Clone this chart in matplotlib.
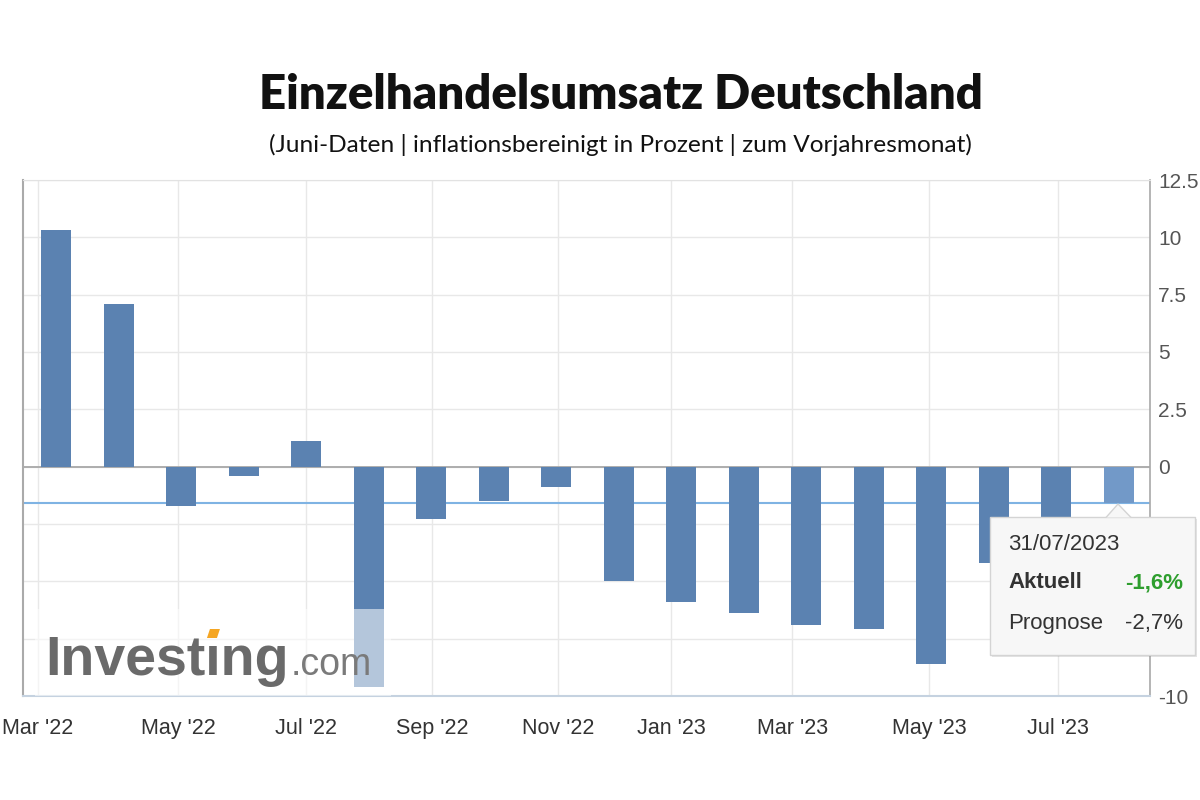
import matplotlib
matplotlib.use("Agg")
import matplotlib.pyplot as plt
import numpy as np
from matplotlib.patches import Rectangle, Polygon

plt.rcParams['font.family'] = ['Liberation Sans', 'DejaVu Sans']

#### data ---------------------------------------

months = ["Mar '22", "Apr '22", "May '22", "Jun '22", "Jul '22", "Aug '22",
          "Sep '22", "Oct '22", "Nov '22", "Dec '22", "Jan '23", "Feb '23",
          "Mar '23", "Apr '23", "May '23", "Jun '23", "Jul '23", "Aug '23"]
values = [10.3, 7.1, -1.7, -0.4, 1.1, -9.6,
          -2.3, -1.5, -0.9, -5.0, -5.9, -6.4,
          -6.9, -7.1, -8.6, -4.2, -3.2, -1.6]

tick_labels = ["Mar '22", "May '22", "Jul '22", "Sep '22", "Nov '22",
               "Jan '23", "Mar '23", "May '23", "Jul '23"]
tick_pos = [-0.29, 1.95, 4.0, 6.02, 8.03, 9.84, 11.78, 13.97, 16.03]

y_ticks = [-10, -7.5, -5, -2.5, 0, 2.5, 5, 7.5, 10, 12.5]
# -2.5 / -5 / -7.5 sit behind the tooltip in the original
y_tick_labels = ["-10", "", "", "", "0", "2.5", "5", "7.5", "10", "12.5"]

tooltip_date = "31/07/2023"
aktuell = -1.6
prognose = -2.7

title = "Einzelhandelsumsatz Deutschland"
subtitle = "(Juni-Daten | inflationsbereinigt in Prozent | zum Vorjahresmonat)"

#### helpers ------------------------------------

W, H = 1200, 800

def px(x, y):
    """pixel (from top-left) -> figure fraction"""
    return x / W, 1 - y / H

def fmt_de(v):
    return f"{v:.1f}".replace('.', ',') + "%"

#### plot ---------------------------------------

fig = plt.figure(figsize=(12, 8), dpi=100)
fig.patch.set_facecolor('white')

ax = fig.add_axes([23 / W, 1 - 696 / H, (1150 - 23) / W, (696 - 180) / H])

bar_color = '#5b82b1'
hover_color = '#7299c8'
colors = [bar_color] * len(values)
colors[-1] = hover_color

x = np.arange(len(values))
ax.bar(x, values, width=0.48, color=colors, zorder=3)

ax.set_xlim(-0.53, 17.5)
ax.set_ylim(-10, 12.5)

ax.set_yticks(y_ticks, y_tick_labels)
ax.yaxis.tick_right()
ax.tick_params(axis='y', length=0, pad=6, labelsize=15, labelcolor='#555555')
ax.set_xticks(tick_pos, tick_labels)
ax.tick_params(axis='x', length=0, pad=16, labelsize=15.5, labelcolor='#333333')

ax.grid(color='#e8e8e8', lw=1)
ax.set_axisbelow(True)
ax.axhline(0, color='#a8a8a8', lw=1.3, zorder=2)
ax.axhline(aktuell, color='#7fb3e3', lw=1.5, zorder=2.5)

ax.spines['left'].set_color('#aaaaaa')
ax.spines['left'].set_linewidth(1.5)
ax.spines['right'].set_color('#a8a8a8')
ax.spines['right'].set_linewidth(1.2)
ax.spines['top'].set_color('#e2e2e2')
ax.spines['bottom'].set_color('#c5d2e0')
ax.spines['bottom'].set_linewidth(1.5)

# logo background (washes out the Aug '22 bar)
ax.add_patch(Rectangle((-0.34, -10), 5.7, 3.8, facecolor='white', alpha=0.55,
                       edgecolor='none', zorder=5))

# Investing.com logo
renderer = fig.canvas.get_renderer()
lx, ly = px(45, 675)
logo_kw = dict(fontsize=40, weight='bold', color='#6a6a6a', va='baseline', zorder=6)
t_main = fig.text(lx, ly, "Investıng", **logo_kw)
probe = fig.text(lx, ly, "Invest", alpha=0, **logo_kw)
probe_i = fig.text(lx, ly, "ı", alpha=0, **logo_kw)
bb_main = t_main.get_window_extent(renderer)
bb_probe = probe.get_window_extent(renderer)
bb_i = probe_i.get_window_extent(renderer)
dot_cx = bb_probe.x1 + bb_i.width / 2
dot_y0 = H - 638
dot = Polygon([((dot_cx - 6) / W, dot_y0 / H), ((dot_cx + 4) / W, dot_y0 / H),
               ((dot_cx + 7) / W, (dot_y0 + 9) / H), ((dot_cx - 3) / W, (dot_y0 + 9) / H)],
              closed=True, facecolor='#f5a623', edgecolor='none',
              transform=fig.transFigure, zorder=6)
fig.patches.append(dot)
fig.text((bb_main.x1 + 2) / W, ly, ".com", fontsize=27, color='#7a7a7a',
         va='baseline', zorder=6)

# tooltip
tx0, ty0, tx1, ty1 = 990, 517, 1195, 655
shadow = Rectangle(px(tx0 + 2, ty1 + 2), (tx1 - tx0) / W, (ty1 - ty0) / H,
                   transform=fig.transFigure, facecolor='#000000', alpha=0.10,
                   edgecolor='none', zorder=7)
box = Rectangle(px(tx0, ty1), (tx1 - tx0) / W, (ty1 - ty0) / H,
                transform=fig.transFigure, facecolor='#f7f7f7',
                edgecolor='#d4d4d4', lw=1, zorder=8)
pointer = Polygon([px(1106, ty0 + 0.5), px(1118, 504), px(1131, ty0 + 0.5)],
                  closed=False, transform=fig.transFigure, facecolor='#f7f7f7',
                  edgecolor='#d4d4d4', lw=1, zorder=9)
fig.patches.extend([shadow, box, pointer])

fig.text(*px(1008, 545), tooltip_date, fontsize=16, color='#333333',
         va='center', zorder=10)
fig.text(*px(1008, 583), "Aktuell", fontsize=16, weight='bold', color='#333333',
         va='center', zorder=10)
fig.text(*px(1183, 583), fmt_de(aktuell), fontsize=16, weight='bold', color='#2e9e2e',
         va='center', ha='right', zorder=10)
fig.text(*px(1008, 623), "Prognose", fontsize=16, color='#333333',
         va='center', zorder=10)
fig.text(*px(1183, 623), fmt_de(prognose), fontsize=16, color='#333333',
         va='center', ha='right', zorder=10)

# titles
fig.text(621 / W, 1 - 95 / H, title, ha='center', va='center', fontsize=34,
         weight='heavy', family=['Lato', 'DejaVu Sans'], color='#111111')
fig.text(620 / W, 1 - 145 / H, subtitle, ha='center', va='center', fontsize=17.6,
         family=['Lato', 'DejaVu Sans'], color='#111111')

fig.savefig('out.png', dpi=100)
